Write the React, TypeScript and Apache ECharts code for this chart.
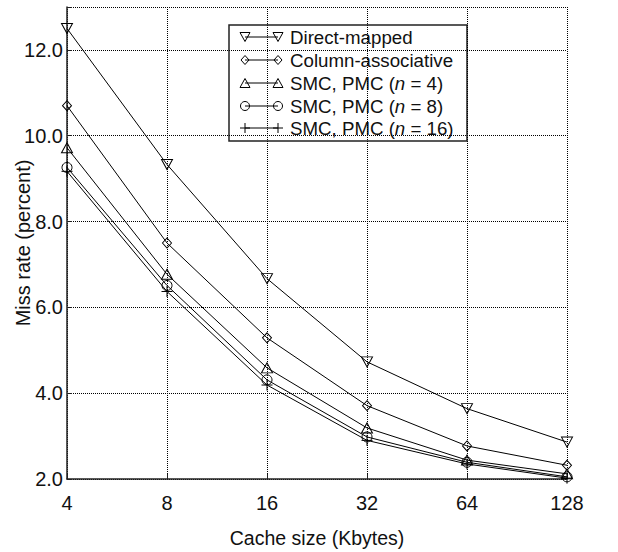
import React, { useEffect, useRef } from "react";
import * as echarts from "echarts";

const cacheSizes = ["4", "8", "16", "32", "64", "128"];
const directMapped = [12.5, 9.33, 6.67, 4.73, 3.64, 2.86];
const columnAssoc = [10.7, 7.5, 5.29, 3.71, 2.77, 2.32];
const pmc4 = [9.72, 6.77, 4.59, 3.19, 2.44, 2.12];
const pmc8 = [9.26, 6.51, 4.31, 2.98, 2.39, 2.05];
const pmc16 = [9.17, 6.37, 4.19, 2.9, 2.35, 2.02];
const seriesNames = [
  "Direct-mapped",
  "Column-associative",
  "SMC, PMC (n = 4)",
  "SMC, PMC (n = 8)",
  "SMC, PMC (n = 16)",
];
const legendLabels = [
  "Direct-mapped",
  "Column-associative",
  "SMC, PMC ({i|n} = 4)",
  "SMC, PMC ({i|n} = 8)",
  "SMC, PMC ({i|n} = 16)",
];

const FONT = "'Liberation Sans', Arial, Helvetica, sans-serif";
const INK = "#111";
const PLUS = "path://M5,0 L5,10 M0,5 L10,5";

export default function App() {
  const ref = useRef<HTMLDivElement>(null);
  useEffect(() => {
    document.body.style.margin = "0";
    const chart = echarts.init(ref.current!, null, { renderer: "svg" });
    const markerStyle = {
      color: "rgba(255,255,255,0)",
      borderColor: "#000",
      borderWidth: 1,
    };
    const mk = (name: string, data: number[], symbol: string, size: any, rotate = 0) => ({
      name,
      type: "line",
      data,
      symbol,
      symbolSize: size,
      symbolRotate: rotate,
      showAllSymbol: true,
      lineStyle: { color: "#000", width: 1 },
      itemStyle: markerStyle,
      z: 3,
    });

    // legend drawn with graphic elements (MATLAB style markers at both ends)
    const lx0 = 229, ly0 = 25, lw = 238, lh = 116;
    const rowY = [37, 60, 83, 106, 128];
    const m1 = 245, m2 = 278;
    const markerEls = (kind: number, cx: number, cy: number): any[] => {
      const st = { fill: "none", stroke: "#000", lineWidth: 1 };
      if (kind === 0)
        return [{ type: "polygon", shape: { points: [[cx - 5, cy - 4.5], [cx + 5, cy - 4.5], [cx, cy + 4.5]] }, style: st }];
      if (kind === 1)
        return [{ type: "polygon", shape: { points: [[cx, cy - 4.5], [cx + 4, cy], [cx, cy + 4.5], [cx - 4, cy]] }, style: st }];
      if (kind === 2)
        return [{ type: "polygon", shape: { points: [[cx - 5, cy + 4.5], [cx + 5, cy + 4.5], [cx, cy - 4.5]] }, style: st }];
      if (kind === 3)
        return [{ type: "circle", shape: { cx, cy, r: 4.5 }, style: st }];
      return [
        { type: "line", shape: { x1: cx - 5, y1: cy, x2: cx + 5, y2: cy }, style: st },
        { type: "line", shape: { x1: cx, y1: cy - 5, x2: cx, y2: cy + 5 }, style: st },
      ];
    };
    const legendChildren: any[] = [
      {
        type: "rect",
        shape: { x: lx0, y: ly0, width: lw, height: lh },
        style: { fill: "#fff", stroke: "#222", lineWidth: 1.5 },
      },
    ];
    rowY.forEach((y, i) => {
      legendChildren.push({
        type: "line",
        shape: { x1: m1, y1: y, x2: m2, y2: y },
        style: { stroke: "#000", lineWidth: 1 },
      });
      legendChildren.push(...markerEls(i, m1, y), ...markerEls(i, m2, y));
      legendChildren.push({
        type: "text",
        x: 290,
        y: y,
        style: {
          text: legendLabels[i],
          font: `18.7px ${FONT}`,
          fill: INK,
          verticalAlign: "middle",
          align: "left",
          rich: { i: { fontStyle: "italic", fontSize: 18.7, fontFamily: FONT, fill: INK } },
        },
      });
    });

    chart.setOption({
      animation: false,
      backgroundColor: "#fff",
      grid: {
        left: 67,
        right: 51,
        top: 7,
        bottom: 73,
        containLabel: false,
        outerBoundsMode: "none",
      },
      xAxis: {
        type: "category",
        data: cacheSizes,
        boundaryGap: false,
        name: "Cache size (Kbytes)",
        nameLocation: "middle",
        nameGap: 49,
        nameMoveOverlap: false,
        nameTextStyle: { fontFamily: FONT, fontSize: 19.5, color: INK },
        axisLine: { lineStyle: { color: "#222", width: 1.5 } },
        axisTick: { show: true, inside: true, length: 5, lineStyle: { color: "#222" } },
        axisLabel: { fontFamily: FONT, fontSize: 20, color: INK, margin: 14 },
        splitLine: { show: true, lineStyle: { type: "dotted", color: "#000", width: 1 } },
      },
      yAxis: {
        type: "value",
        min: 2,
        max: 13,
        interval: 2,
        name: "Miss rate (percent)",
        nameLocation: "middle",
        nameGap: 34,
        nameMoveOverlap: false,
        nameTextStyle: { fontFamily: FONT, fontSize: 20, color: INK },
        axisLine: { show: true, lineStyle: { color: "#222", width: 1.5 } },
        axisTick: { show: true, inside: true, length: 5, lineStyle: { color: "#222" } },
        axisLabel: {
          fontFamily: FONT,
          fontSize: 20,
          color: INK,
          margin: 4,
          formatter: (v: number) => (v > 12.5 ? "" : v.toFixed(1)),
        },
        splitLine: { show: true, lineStyle: { type: "dotted", color: "#000", width: 1 } },
      },
      series: [
        mk(seriesNames[0], directMapped, "triangle", [11, 10], 180),
        mk(seriesNames[1], columnAssoc, "diamond", [9, 10]),
        mk(seriesNames[2], pmc4, "triangle", [11, 10]),
        mk(seriesNames[3], pmc8, "circle", 10),
        mk(seriesNames[4], pmc16, PLUS, 11),
      ],
      graphic: [{ type: "group", z: 100, children: legendChildren }],
    });
    return () => chart.dispose();
  }, []);
  return <div ref={ref} style={{ width: 618, height: 552 }} />;
}
